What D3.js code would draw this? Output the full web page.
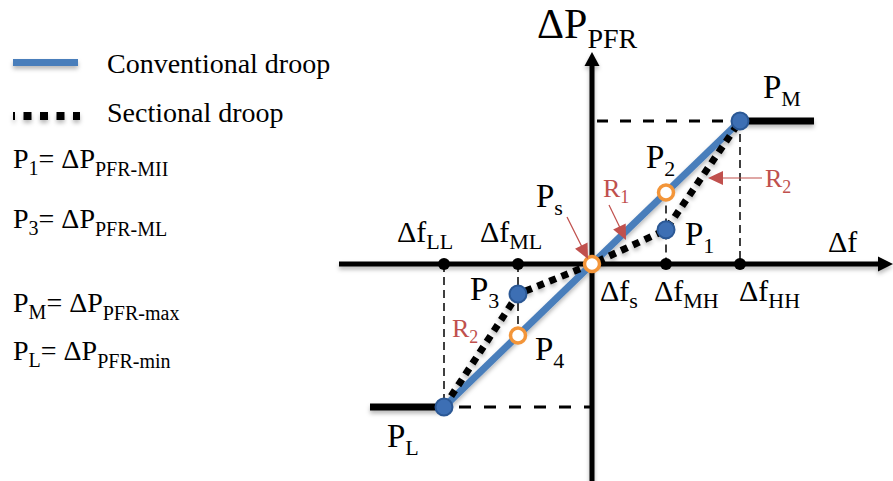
<!DOCTYPE html>
<html><head><meta charset="utf-8">
<script src="https://cdn.jsdelivr.net/npm/d3@7"></script>
<style>body{margin:0;background:#fff}svg{display:block}</style>
</head><body>
<svg id="chart" width="893" height="481"></svg>
<script>
// Frequency breakpoints on the Δf axis
const freqNames = ["LL", "ML", "s", "MH", "HH"];
const freqValues = [-2, -1, 0, 1, 2];

// Conventional droop: one straight segment between the power limits
const conventionalF = [-2, 2];
const conventionalP = [-1, 1];

// Sectional droop breakpoints
const sectionalF = [-2, -1, 0, 1, 2];
const sectionalP = [-1, -0.21, 0, 0.24, 1];

// Saturation plateaus beyond the limits
const plateauLowF = [-3, -2];
const plateauHighF = [2, 3];
const plateauLowP = -1;
const plateauHighP = 1;

// Marked operating points
const pointNames = ["M", "L", "1", "3", "2", "4", "s"];
const pointF = [2, -2, 1, -1, 1, -1, 0];
const pointP = [1, -1, 0.24, -0.21, 0.5, -0.5, 0];
const pointKind = ["solid", "solid", "solid", "solid", "hollow", "hollow", "hollow"];

// Legend and definitions
const legendNames = ["Conventional droop", "Sectional droop"];
const defSymbols = ["1", "3", "M", "L"];
const defSubscripts = ["PFR-MII", "PFR-ML", "PFR-max", "PFR-min"];

const W = 893, H = 481;
const FONT = "'Liberation Serif','Times New Roman',serif";
const BLUE = "#4a7ebb", DOT_FILL = "#3d6fb4", DOT_STROKE = "#2b5895";
const ORANGE = "#f39539", RED = "#c0504d";

const svg = d3.select("#chart").attr("font-family", FONT);

const defs = svg.append("defs");
const shadow = defs.append("filter").attr("id", "shadow")
  .attr("x", "-10%").attr("y", "-30%").attr("width", "120%").attr("height", "160%");
shadow.append("feDropShadow").attr("dx", 0).attr("dy", 3).attr("stdDeviation", 2)
  .attr("flood-color", "#000").attr("flood-opacity", 0.28);

const x = d3.scaleLinear().domain([-2, 2]).range([444, 740]);
const y = d3.scaleLinear().domain([-1, 1]).range([407, 121]);
const x0 = x(0), y0 = y(0);

// Text with alternating normal / subscript parts
function richText(g, px, py, segs, color) {
  const t = g.append("text").attr("x", px).attr("y", py).attr("fill", color || "#000");
  let cur = 0;
  segs.forEach(s => {
    const d = s.dy || 0;
    t.append("tspan").attr("font-size", s.size).attr("dy", d - cur).text(s.t);
    cur = d;
  });
  return t;
}

function arrowHead(g, tip, from, len, half, color) {
  const dx = tip[0] - from[0], dy = tip[1] - from[1];
  const L = Math.hypot(dx, dy), ux = dx / L, uy = dy / L;
  const bx = tip[0] - ux * len, by = tip[1] - uy * len;
  g.append("path")
    .attr("d", `M${tip[0]},${tip[1]}L${bx - uy * half},${by + ux * half}L${bx + uy * half},${by - ux * half}Z`)
    .attr("fill", color);
}

// ---- guide lines ----
const guides = svg.append("g").attr("stroke", "#000").attr("fill", "none");
guides.append("line").attr("x1", x0).attr("x2", x(2)).attr("y1", y(1)).attr("y2", y(1))
  .attr("stroke-width", 3).attr("stroke-dasharray", "11,12").attr("stroke-dashoffset", -5);
guides.append("line").attr("x1", x(-2)).attr("x2", x0).attr("y1", y(-1)).attr("y2", y(-1))
  .attr("stroke-width", 3).attr("stroke-dasharray", "12,13").attr("stroke-dashoffset", -15);
const thin = [[2, 1, 0], [1, 0.5, 0], [-1, 0, -0.5], [-2, 0, -1]];
thin.forEach(([f, p1, p2]) => {
  guides.append("line").attr("x1", x(f)).attr("x2", x(f)).attr("y1", y(p1)).attr("y2", y(p2))
    .attr("stroke-width", 1.5).attr("stroke-dasharray", "8,5");
});

// ---- axes ----
const axes = svg.append("g").attr("filter", "url(#shadow)");
axes.append("line").attr("x1", 339).attr("x2", W - 10).attr("y1", y0).attr("y2", y0)
  .attr("stroke", "#000").attr("stroke-width", 5);
arrowHead(axes, [W, y0], [339, y0], 15, 7.5, "#000");
axes.append("line").attr("x1", x0).attr("x2", x0).attr("y1", H).attr("y2", 62)
  .attr("stroke", "#000").attr("stroke-width", 5);
arrowHead(axes, [x0, 52], [x0, H], 14, 7.5, "#000");

// ---- curves ----
const line = d3.line().x(d => x(d[0])).y(d => y(d[1]));
const curves = svg.append("g").attr("fill", "none").attr("filter", "url(#shadow)");
curves.append("path").datum(plateauLowF.map(f => [f, plateauLowP])).attr("d", line)
  .attr("stroke", "#000").attr("stroke-width", 7);
curves.append("path").datum(plateauHighF.map(f => [f, plateauHighP])).attr("d", line)
  .attr("stroke", "#000").attr("stroke-width", 7);
curves.append("path").datum(conventionalF.map((f, i) => [f, conventionalP[i]])).attr("d", line)
  .attr("stroke", BLUE).attr("stroke-width", 7);
curves.append("path").datum(sectionalF.map((f, i) => [f, sectionalP[i]])).attr("d", line)
  .attr("stroke", "#000").attr("stroke-width", 7).attr("stroke-dasharray", "7,6");

// ---- axis breakpoints ----
svg.append("g").selectAll("circle").data(freqValues).join("circle")
  .attr("cx", d => x(d)).attr("cy", y0).attr("r", 6).attr("fill", "#000");

// ---- operating points ----
const pts = pointNames.map((n, i) => ({ n, f: pointF[i], p: pointP[i], k: pointKind[i] }));
svg.append("g").selectAll("circle").data(pts).join("circle")
  .attr("cx", d => x(d.f)).attr("cy", d => y(d.p))
  .attr("r", d => d.k === "solid" ? 8.5 : 7.5)
  .attr("fill", d => d.k === "solid" ? DOT_FILL : "#fff")
  .attr("stroke", d => d.k === "solid" ? DOT_STROKE : ORANGE)
  .attr("stroke-width", d => d.k === "solid" ? 2 : 3.5);

// ---- annotation arrows ----
const ann = svg.append("g");
const arrows = [
  { from: [567, 217], tip: [588, 259] },
  { from: [609, 205], tip: [626, 240] },
  { from: [762, 178], tip: [708, 178] }
];
arrows.forEach(a => {
  const dx = a.tip[0] - a.from[0], dy = a.tip[1] - a.from[1], L = Math.hypot(dx, dy);
  ann.append("line").attr("x1", a.from[0]).attr("y1", a.from[1])
    .attr("x2", a.tip[0] - dx / L * 12).attr("y2", a.tip[1] - dy / L * 12)
    .attr("stroke", RED).attr("stroke-width", 1.2);
  arrowHead(ann, a.tip, a.from, 15, 7, RED);
});

// ---- labels ----
const labels = svg.append("g");
// axis titles
richText(labels, 537, 38, [{ t: "ΔP", size: 42 }, { t: "PFR", size: 28, dy: 10 }]);
richText(labels, 828, 252, [{ t: "Δf", size: 30 }]);

// breakpoint labels on the Δf axis
const tickOffsets = { LL: [-47, -22], ML: [-38, -22], s: [8, 37], MH: [-12, 37], HH: [-1, 37] };
freqNames.forEach((n, i) => {
  const o = tickOffsets[n];
  richText(labels, x(freqValues[i]) + o[0], y0 + o[1],
    [{ t: "Δf", size: 30 }, { t: n, size: 22, dy: 7 }]);
});

// point labels
const pointOffsets = { M: [23, -23], L: [-57, 40], "1": [19, 15], "3": [-48, 6],
  "2": [-20, -25], "4": [17, 24], s: [-56, -57] };
pts.forEach(d => {
  const o = pointOffsets[d.n];
  richText(labels, x(d.f) + o[0], y(d.p) + o[1],
    [{ t: "P", size: 33 }, { t: d.n, size: 22, dy: 8 }]);
});

// slope labels
const slopeLabels = [
  { t: "1", at: [603, 197] },
  { t: "2", at: [765, 187] },
  { t: "2", at: [452, 337] }
];
slopeLabels.forEach(s => {
  richText(labels, s.at[0], s.at[1], [{ t: "R", size: 26 }, { t: s.t, size: 18, dy: 6 }], RED);
});

// ---- legend ----
const legend = svg.append("g");
const legendMarks = legend.append("g").attr("filter", "url(#shadow)");
legendMarks.append("line").attr("x1", 13).attr("x2", 78).attr("y1", 62.5).attr("y2", 62.5)
  .attr("stroke", BLUE).attr("stroke-width", 7);
legendMarks.append("line").attr("x1", 13).attr("x2", 80).attr("y1", 116).attr("y2", 116)
  .attr("stroke", "#000").attr("stroke-width", 8)
  .attr("stroke-dasharray", "8,8.5").attr("stroke-dashoffset", 6);
legendNames.forEach((n, i) => {
  legend.append("text").attr("x", 107).attr("y", 73 + i * 49).attr("font-size", 28).text(n);
});
const defBaselines = [168, 228, 312, 360];
defSymbols.forEach((s, i) => {
  richText(legend, 13, defBaselines[i], [
    { t: "P", size: 28 }, { t: s, size: 20, dy: 7 },
    { t: "= ΔP", size: 28 }, { t: defSubscripts[i], size: 20, dy: 8 }
  ]);
});
</script>
</body></html>
